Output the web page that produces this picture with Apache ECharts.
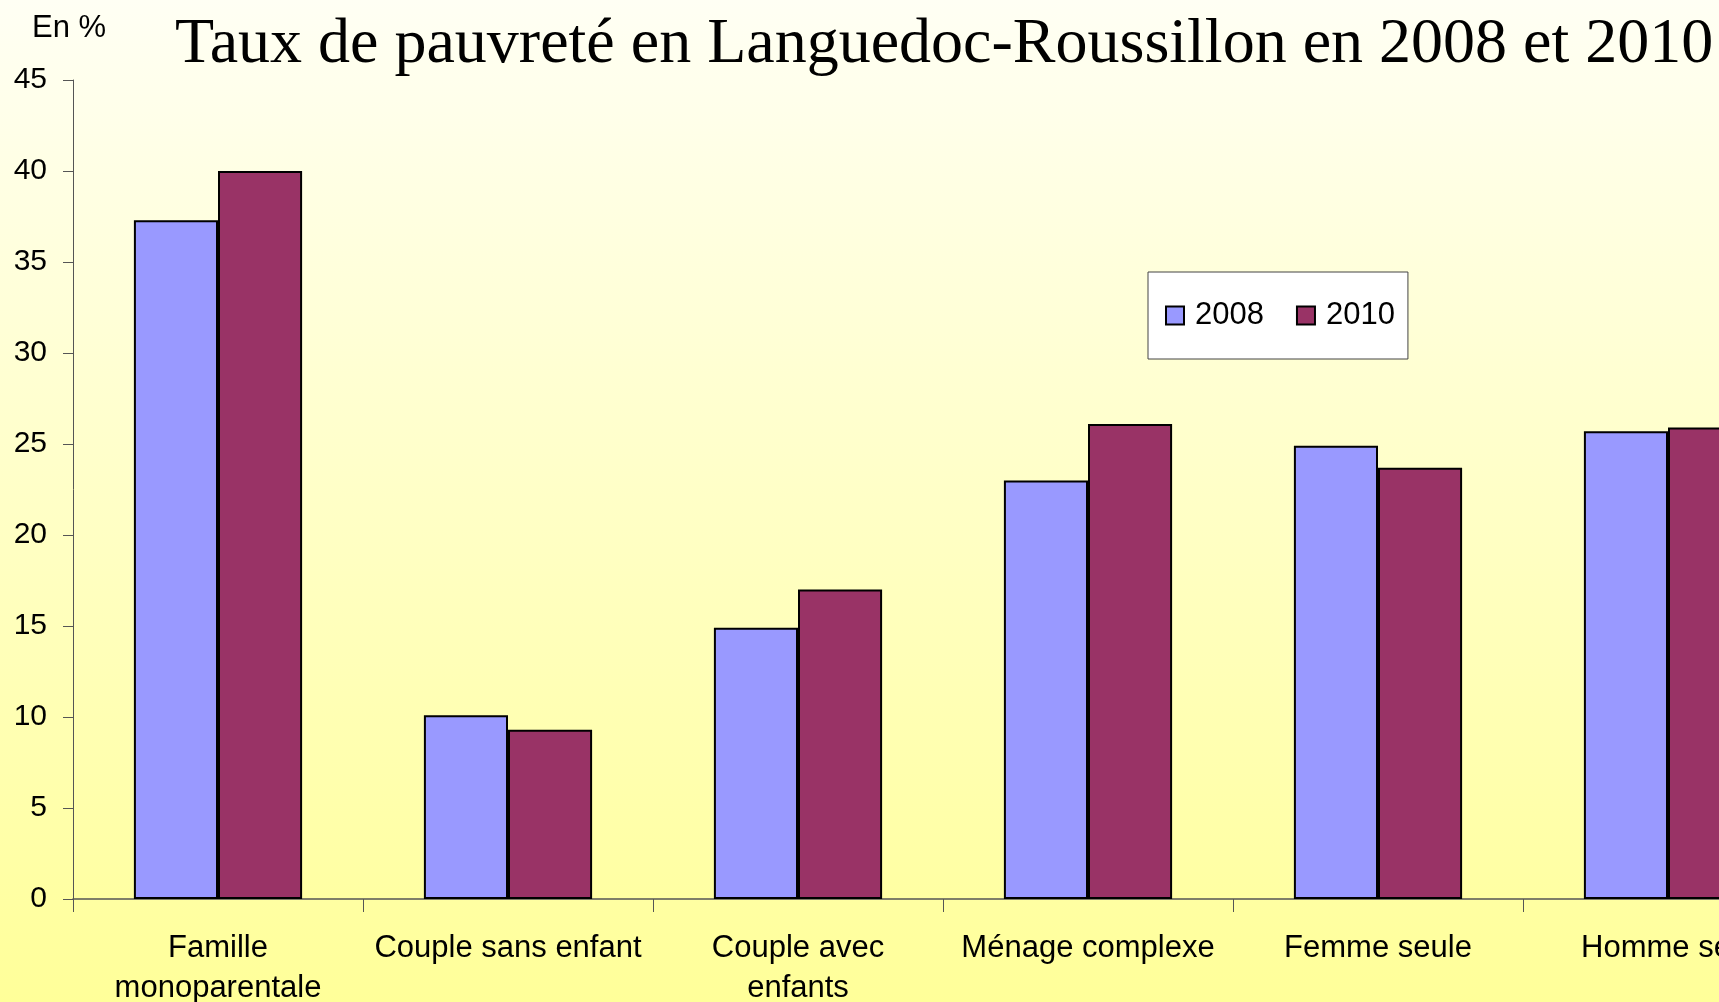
<!DOCTYPE html>
<html>
<head>
<meta charset="utf-8">
<script src="https://cdn.jsdelivr.net/npm/echarts@6/dist/echarts.min.js"></script>
<style>
html,body{margin:0;padding:0;}
#c{width:1719px;height:1002px;}
</style>
</head>
<body>
<div id="c"></div>
<script>
var categories = ["Famille\nmonoparentale", "Couple sans enfant", "Couple avec\nenfants", "Ménage complexe", "Femme seule", "Homme seul"];
var values2008 = [37.3, 10.1, 14.9, 23.0, 24.9, 25.7];
var values2010 = [40.0, 9.3, 17.0, 26.1, 23.7, 25.9];
var seriesNames = ["2008", "2010"];
var titleText = "Taux de pauvreté en Languedoc-Roussillon en 2008 et 2010";
var unitText = "En %";

var chart = echarts.init(document.getElementById('c'), null, {renderer: 'canvas'});
var sans = "'Liberation Sans', Arial, sans-serif";
chart.setOption({
  backgroundColor: new echarts.graphic.LinearGradient(0, 0, 0, 1, [
    {offset: 0, color: '#FFFFF4'},
    {offset: 1, color: '#FFFF99'}
  ]),
  animation: false,
  title: {
    text: titleText,
    left: 175,
    top: 13,
    padding: 0,
    textStyle: {fontFamily: "'Liberation Serif', 'Times New Roman', serif", fontSize: 64, fontWeight: 'normal', color: '#000'}
  },
  graphic: [{
    type: 'text',
    left: 32,
    top: 13,
    style: {text: unitText, fontFamily: sans, fontSize: 31, fill: '#000'}
  }],
  legend: {
    data: seriesNames,
    left: 1148,
    top: 272,
    orient: 'horizontal',
    padding: [28, 13, 28, 17],
    itemWidth: 18,
    itemHeight: 18,
    itemGap: 32,
    icon: 'rect',
    backgroundColor: '#FFFFFF',
    borderColor: '#444',
    borderWidth: 1,
    textStyle: {fontFamily: sans, fontSize: 31, color: '#000', padding: [0, 0, 0, 6]}
  },
  grid: {left: 73, width: 1740, top: 80, bottom: 103, containLabel: false, outerBoundsMode: 'none'},
  xAxis: {
    type: 'category',
    data: categories,
    axisLine: {show: true, lineStyle: {color: '#555', width: 1.5}},
    axisTick: {show: true, length: 13, lineStyle: {color: '#555', width: 1}},
    axisLabel: {interval: 0, fontFamily: sans, fontSize: 31, color: '#000', margin: 29, lineHeight: 40}
  },
  yAxis: {
    type: 'value',
    min: 0, max: 45, interval: 5,
    axisLine: {show: true, lineStyle: {color: '#555', width: 1}},
    axisTick: {show: true, length: 10, lineStyle: {color: '#555', width: 1}},
    splitLine: {show: false},
    axisLabel: {fontFamily: sans, fontSize: 30, color: '#000', margin: 26}
  },
  series: [{
    name: seriesNames[0],
    type: 'bar',
    data: values2008,
    barGap: '0%',
    barCategoryGap: '42%',
    itemStyle: {color: '#9999FF', borderColor: '#000', borderWidth: 2}
  }, {
    name: seriesNames[1],
    type: 'bar',
    data: values2010,
    itemStyle: {color: '#993366', borderColor: '#000', borderWidth: 2}
  }]
});
</script>
</body>
</html>
